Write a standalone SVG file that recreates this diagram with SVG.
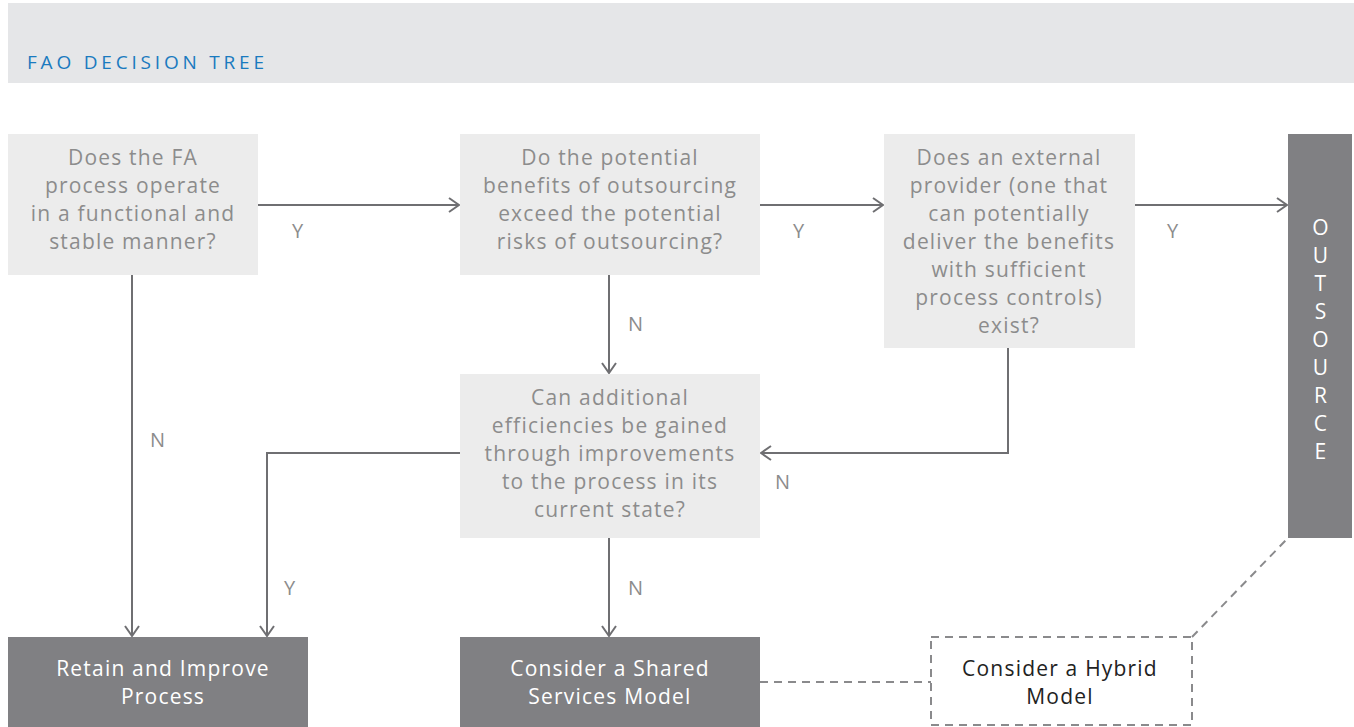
<svg xmlns="http://www.w3.org/2000/svg" width="1354" height="727" viewBox="0 0 1354 727">
<style>
.q{fill:#ececec}
.d{fill:#808083}
.t{font-family:"Open Sans","Liberation Sans",sans-serif;font-size:21px;letter-spacing:1.2px;fill:#8c8c8c;text-anchor:middle}
.w{font-family:"Open Sans","Liberation Sans",sans-serif;font-size:21px;letter-spacing:1.2px;fill:#ffffff;text-anchor:middle}
.b{font-family:"Open Sans","Liberation Sans",sans-serif;font-size:21px;letter-spacing:1.2px;fill:#222222;text-anchor:middle}
.l{font-family:"Open Sans","Liberation Sans",sans-serif;font-size:20px;fill:#8c8c8c}
.c{fill:none;stroke:#6f6f72;stroke-width:2;marker-end:url(#ah)}
.dash{fill:none;stroke:#8a8a8c;stroke-width:2;stroke-dasharray:8 6}
</style>
<defs>
<marker id="ah" viewBox="0 0 12 16" refX="11" refY="8" markerWidth="12" markerHeight="16" markerUnits="userSpaceOnUse" orient="auto">
<polyline points="1,1 11,8 1,15" fill="none" stroke="#6f6f72" stroke-width="2"/>
</marker>
</defs>
<rect width="1354" height="727" fill="#ffffff"/>
<g id="header">
<rect x="8" y="3" width="1346" height="80" fill="#e5e6e8"/>
<text x="27" y="69" font-family="'Open Sans','Liberation Sans',sans-serif" font-size="19" letter-spacing="3.8" fill="#1a7abf">FAO DECISION TREE</text>
</g>
<g id="connectors">
<line class="c" x1="258" y1="205" x2="459" y2="205"/>
<line class="c" x1="760" y1="205" x2="883" y2="205"/>
<line class="c" x1="1135" y1="205" x2="1287" y2="205"/>
<line class="c" x1="132" y1="275" x2="132" y2="636"/>
<line class="c" x1="609" y1="275" x2="609" y2="373"/>
<polyline class="c" points="1008,348 1008,453 761,453"/>
<polyline class="c" points="460,453 267,453 267,636"/>
<line class="c" x1="609" y1="538" x2="609" y2="636"/>
<line class="dash" x1="760" y1="682" x2="931" y2="682"/>
<line class="dash" x1="1192" y1="637" x2="1288" y2="538"/>
<text class="l" x="292" y="238">Y</text>
<text class="l" x="793" y="238">Y</text>
<text class="l" x="1167" y="238">Y</text>
<text class="l" x="150" y="447">N</text>
<text class="l" x="628" y="331">N</text>
<text class="l" x="775" y="489">N</text>
<text class="l" x="284" y="595">Y</text>
<text class="l" x="628" y="595">N</text>
</g>
<g id="q1">
<rect class="q" x="8" y="134" width="250" height="141"/>
<text class="t" x="133"><tspan x="133" y="165">Does the FA</tspan><tspan x="133" y="193">process operate</tspan><tspan x="133" y="221">in a functional and</tspan><tspan x="133" y="249">stable manner?</tspan></text>
</g>
<g id="q2">
<rect class="q" x="460" y="134" width="300" height="141"/>
<text class="t" x="610"><tspan x="610" y="165">Do the potential</tspan><tspan x="610" y="193">benefits of outsourcing</tspan><tspan x="610" y="221">exceed the potential</tspan><tspan x="610" y="249">risks of outsourcing?</tspan></text>
</g>
<g id="q3">
<rect class="q" x="884" y="134" width="251" height="214"/>
<text class="t" x="1009"><tspan x="1009" y="165">Does an external</tspan><tspan x="1009" y="193">provider (one that</tspan><tspan x="1009" y="221">can potentially</tspan><tspan x="1009" y="249">deliver the benefits</tspan><tspan x="1009" y="277">with sufficient</tspan><tspan x="1009" y="305">process controls)</tspan><tspan x="1009" y="333">exist?</tspan></text>
</g>
<g id="q4">
<rect class="q" x="460" y="374" width="300" height="164"/>
<text class="t" x="610"><tspan x="610" y="405">Can additional</tspan><tspan x="610" y="433">efficiencies be gained</tspan><tspan x="610" y="461">through improvements</tspan><tspan x="610" y="489">to the process in its</tspan><tspan x="610" y="517">current state?</tspan></text>
</g>
<g id="outsource">
<rect class="d" x="1288" y="134" width="64" height="404"/>
<text class="w"><tspan x="1321" y="235">O</tspan><tspan x="1321" y="263">U</tspan><tspan x="1321" y="291">T</tspan><tspan x="1321" y="319">S</tspan><tspan x="1321" y="347">O</tspan><tspan x="1321" y="375">U</tspan><tspan x="1321" y="403">R</tspan><tspan x="1321" y="431">C</tspan><tspan x="1321" y="459">E</tspan></text>
</g>
<g id="retain">
<rect class="d" x="8" y="637" width="300" height="90"/>
<text class="w"><tspan x="163" y="676">Retain and Improve</tspan><tspan x="163" y="704">Process</tspan></text>
</g>
<g id="shared">
<rect class="d" x="460" y="637" width="300" height="90"/>
<text class="w"><tspan x="610" y="676">Consider a Shared</tspan><tspan x="610" y="704">Services Model</tspan></text>
</g>
<g id="hybrid">
<rect x="931" y="637" width="261" height="88" fill="#ffffff" stroke="#8a8a8c" stroke-width="2" stroke-dasharray="8 6"/>
<text class="b"><tspan x="1060" y="676">Consider a Hybrid</tspan><tspan x="1060" y="704">Model</tspan></text>
</g>
</svg>
